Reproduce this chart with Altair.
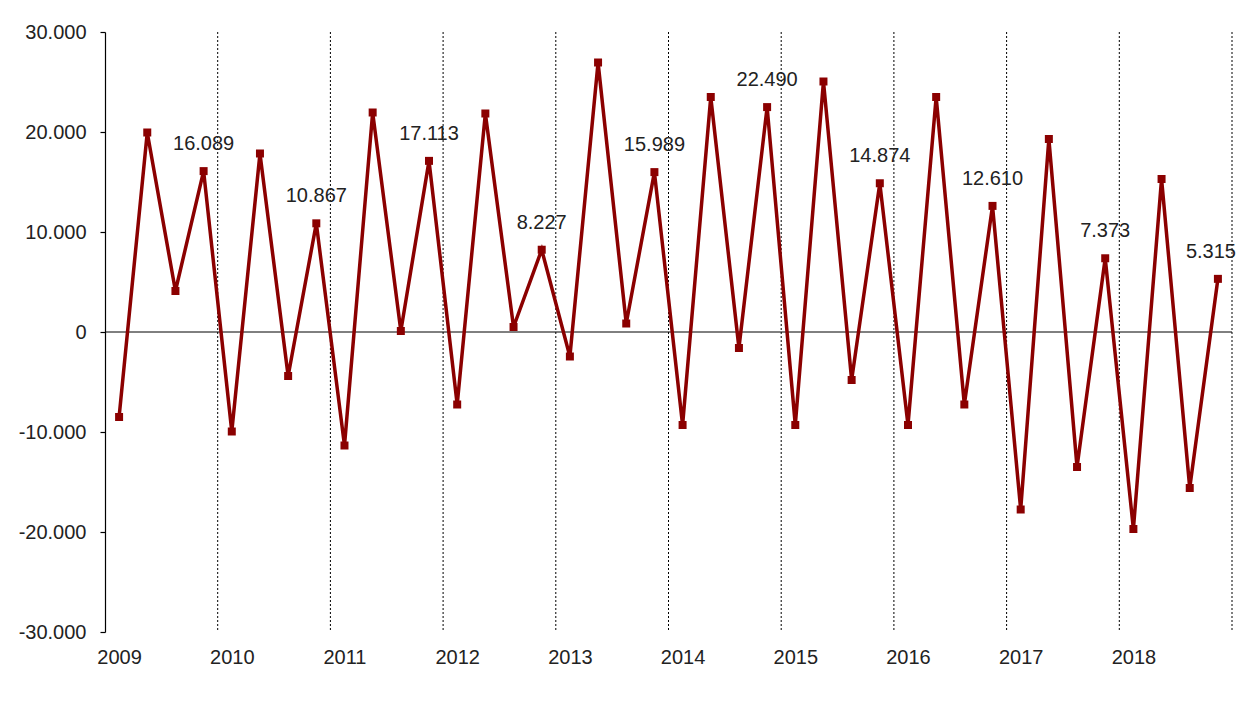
import altair as alt
import pandas as pd

years = list(range(2009, 2019))
quarters = ["T1", "T2", "T3", "T4"]
values = [
    -8500, 19950, 4100, 16089,
    -9950, 17850, -4400, 10867,
    -11350, 21950, 100, 17113,
    -7250, 21850, 500, 8227,
    -2450, 26950, 850, 15989,
    -9300, 23500, -1600, 22490,
    -9300, 25050, -4800, 14874,
    -9300, 23500, -7250, 12610,
    -17750, 19300, -13500, 7373,
    -19700, 15300, -15600, 5315,
]
y_ticks = [-30000, -20000, -10000, 0, 10000, 20000, 30000]

rows = []
for i, v in enumerate(values):
    yr = years[i // 4]
    q = quarters[i % 4]
    rows.append({"idx": i, "year": yr, "quarter": q, "value": v,
                 "show": q == "T4", "last": i == len(values) - 1})
df = pd.DataFrame(rows)
bounds = pd.DataFrame({"b": [(k + 1) * 4 - 0.5 for k in range(len(years))]})
zero = pd.DataFrame({"z": [0]})

FONT = "Liberation Sans"
RED = "#8B0000"
TXT = "#222222"

xscale = alt.Scale(domain=[-0.5, len(values) - 0.5], nice=False, zero=False)
yscale = alt.Scale(domain=[y_ticks[0], y_ticks[-1]], nice=False)

x_enc = alt.X("idx:Q", scale=xscale,
              axis=alt.Axis(values=[k * 4 for k in range(len(years))],
                            labelExpr=f"toString({years[0]} + datum.value / 4)",
                            ticks=False, tickSize=0, domain=False, grid=False,
                            labelPadding=15, labelFontSize=20, labelFont=FONT,
                            labelColor=TXT, title=None))
y_enc = alt.Y("value:Q", scale=yscale,
              axis=alt.Axis(values=y_ticks, format=",d", grid=False,
                            domainColor="black", domainWidth=1.2,
                            tickColor="black", tickSize=5, tickWidth=1.2,
                            labelPadding=14, labelFontSize=20, labelFont=FONT,
                            labelColor=TXT, title=None))

grid = alt.Chart(bounds).mark_rule(color="black", strokeWidth=1, strokeDash=[2, 2]).encode(
    x=alt.X("b:Q", scale=xscale)
)
zline = alt.Chart(zero).mark_rule(color="black", strokeWidth=1).encode(
    y=alt.Y("z:Q", scale=yscale)
)
line = alt.Chart(df).mark_line(color=RED, strokeWidth=3.5).encode(x=x_enc, y=y_enc)
pts = alt.Chart(df).mark_point(shape="square", filled=True, color=RED, size=64, opacity=1).encode(
    x=alt.X("idx:Q", scale=xscale), y=alt.Y("value:Q", scale=yscale)
)
labels = alt.Chart(df).transform_filter("datum.show && !datum.last").mark_text(
    font=FONT, fontSize=20, color=TXT, baseline="alphabetic", dy=-21
).encode(
    x=alt.X("idx:Q", scale=xscale), y=alt.Y("value:Q", scale=yscale),
    text=alt.Text("value:Q", format=",d")
)
last_label = alt.Chart(df).transform_filter("datum.last").mark_text(
    font=FONT, fontSize=20, color=TXT, baseline="alphabetic", dy=-21, dx=-7
).encode(
    x=alt.X("idx:Q", scale=xscale), y=alt.Y("value:Q", scale=yscale),
    text=alt.Text("value:Q", format=",d")
)

chart = alt.layer(grid, zline, line, pts, labels, last_label).properties(
    width=1127, height=600,
    padding={"left": 97, "top": 24, "right": 5, "bottom": 60},
    autosize=alt.AutoSizeParams(type="none"),
).configure(
    locale=alt.Locale(number=alt.NumberLocale(decimal=",", thousands=".", grouping=[3],
                                              currency=["", "\u00a0€"], minus="-")),
    view=alt.ViewConfig(stroke=None),
)

chart.save("out.html", embed_options={"renderer": "svg", "actions": False})
